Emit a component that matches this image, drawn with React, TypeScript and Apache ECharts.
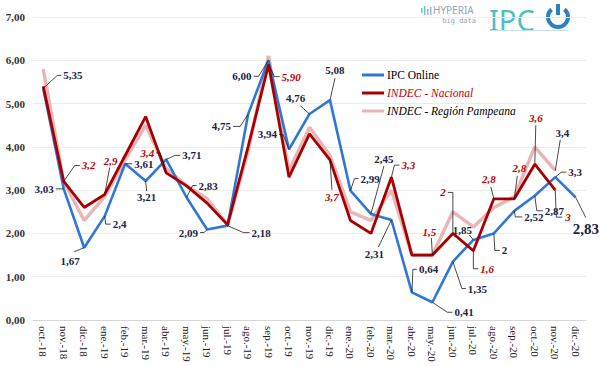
import React, { useEffect, useRef } from "react";
import * as echarts from "echarts";

const categories = ["oct.-18","nov.-18","dic.-18","ene.-19","feb.-19","mar.-19","abr.-19","may.-19","jun.-19","jul.-19","ago.-19","sep.-19","oct.-19","nov.-19","dic.-19","ene.-20","feb.-20","mar.-20","abr.-20","may.-20","jun.-20","jul.-20","ago.-20","sep.-20","oct.-20","nov.-20","dic.-20"];

const ipcOnline = [5.35,3.03,1.67,2.4,3.61,3.21,3.71,2.83,2.09,2.18,4.75,6.0,3.94,4.76,5.08,2.99,2.45,2.31,0.64,0.41,1.35,1.85,2,2.52,2.87,3.3,2.83];
const indecNacional = [5.4,3.2,2.6,2.9,3.8,4.7,3.4,3.1,2.7,2.2,4.0,5.9,3.3,4.3,3.7,2.3,2.0,3.3,1.5,1.5,2.0,1.6,2.8,2.8,3.6,3.0,null];
const indecPampeana = [5.8,3.2,2.3,2.85,3.7,4.5,3.5,3.1,2.8,2.2,3.9,6.1,3.45,4.45,3.8,2.5,2.3,3.0,1.5,1.5,2.5,2.15,2.6,2.85,4.0,3.45,null];

const ipcOnlineLabels = ["5,35","3,03","1,67","2,4","3,61","3,21","3,71","2,83","2,09","2,18","4,75","6,00","3,94","4,76","5,08","2,99","2,45","2,31","0,64","0,41","1,35","1,85","2","2,52","2,87","3,3","2,83"];
const nacionalLabels = [null,"3,2",null,"2,9",null,null,"3,4",null,null,null,null,"5,90",null,null,"3,7",null,null,"3,3",null,"1,5","2","1,6","2,8","2,8","3,6","3",null];
const pampeanaLabels = [null,null,null,null,null,null,null,null,null,null,null,null,null,null,null,null,null,null,null,null,null,null,null,null,null,"3,4",null];

const seriesNames = ["IPC Online", "INDEC - Nacional", "INDEC - Región Pampeana"];

// Callout layout (leader-line points and text anchor relative to the data point)
type Callout = { pts: number[][]; t: number[]; a: string; big?: boolean };
const calloutLayout: Record<string, Callout> = {
  b0: { pts: [[14, -13], [18, -13]], t: [20, -13], a: "left" },
  b1: { pts: [[-3, 0], [-8, 0]], t: [-10, 0], a: "right" },
  b2: { pts: [[-10, 4]], t: [-14, 13], a: "center" },
  b3: { pts: [[1, 8], [6, 8]], t: [8, 8], a: "left" },
  b4: { pts: [[7, 0]], t: [9, 0], a: "left" },
  b5: { pts: [[1, 10]], t: [1, 16], a: "center" },
  b6: { pts: [[9, -4], [14, -4]], t: [16, -4], a: "left" },
  b7: { pts: [[6, -12], [10, -12]], t: [12, -12], a: "left" },
  b8: { pts: [[-3, 3], [-7, 3]], t: [-9, 3], a: "right" },
  b9: { pts: [[16, 7], [22, 7]], t: [24, 7], a: "left" },
  b10: { pts: [[-8, 12], [-15, 12]], t: [-17, 12], a: "right" },
  b11: { pts: [[-10, 16], [-15, 16]], t: [-17, 16], a: "right" },
  b12: { pts: [[-6, -15], [-10, -15]], t: [-12, -15], a: "right" },
  b13: { pts: [[-9, -8]], t: [-14, -16], a: "center" },
  b14: { pts: [[5, -22]], t: [5, -30], a: "center" },
  b15: { pts: [[4, -12], [8, -12]], t: [10, -12], a: "left" },
  b16: { pts: [[13, -48]], t: [13, -55], a: "center" },
  b17: { pts: [[-13, 27]], t: [-17, 34], a: "center" },
  b18: { pts: [[1, -23], [5, -23]], t: [7, -23], a: "left" },
  b19: { pts: [[15, 10], [20, 10]], t: [22, 10], a: "left" },
  b20: { pts: [[9, 27], [13, 27]], t: [15, 27], a: "left" },
  b21: { pts: [[-4, -5]], t: [-11, -10], a: "center" },
  b22: { pts: [[1, 17], [6, 17]], t: [8, 17], a: "left" },
  b23: { pts: [[1, 6], [8, 6]], t: [10, 6], a: "left" },
  b24: { pts: [[2, 15], [8, 15]], t: [10, 15], a: "left" },
  b25: { pts: [[6, -5], [11, -5]], t: [13, -5], a: "left" },
  b26: { pts: [[10, 20]], t: [10, 31], a: "center", big: true },
  r1: { pts: [[11, -16], [16, -16]], t: [18, -16], a: "left" },
  r3: { pts: [[5, -27]], t: [6, -33], a: "center" },
  r6: { pts: [[-6, -20], [-10, -20]], t: [-12, -20], a: "right" },
  r11: { pts: [[6, 12], [11, 12]], t: [13, 12], a: "left" },
  r14: { pts: [[2, 30]], t: [2, 37], a: "center" },
  r17: { pts: [[3, -12], [8, -12]], t: [10, -12], a: "left" },
  r19: { pts: [[-1, -17]], t: [-3, -23], a: "center" },
  r20: { pts: [[0, -41], [-5, -41]], t: [-7, -41], a: "right" },
  r21: { pts: [[0, 18], [5, 18]], t: [7, 18], a: "left" },
  r22: { pts: [[-3, -12]], t: [-5, -20], a: "center" },
  r23: { pts: [[3, -23]], t: [5, -31], a: "center" },
  r24: { pts: [[1, -39]], t: [1, -46], a: "center" },
  r25: { pts: [[1, 27], [7, 27]], t: [10, 27], a: "left" },
  p25: { pts: [[5, -31]], t: [7, -38], a: "center" },
};

const SERIF = "Liberation Serif, Times New Roman, Tinos, DejaVu Serif, serif";
const SANS = "Noto Sans, sans-serif";
const COLORS = { blue: "#2f77d6", red: "#a80000", pink: "#e8b6b6" };

function buildCallouts(prefix: string, values: (number | null)[], labels: (string | null)[], red: boolean) {
  const entries: { i: number; v: number; text: string; key: string }[] = [];
  labels.forEach((txt, i) => {
    const v = values[i];
    if (txt != null && v != null) entries.push({ i, v, text: txt, key: prefix + i });
  });
  return {
    type: "custom",
    name: "_callouts_" + prefix,
    coordinateSystem: "cartesian2d",
    z: 10,
    silent: true,
    data: entries.map((e) => [e.i, e.v]),
    renderItem: (params: any, api: any) => {
      const e = entries[params.dataIndex];
      const lay = calloutLayout[e.key];
      const p = api.coord([api.value(0), api.value(1)]);
      const pts = [[p[0], p[1]], ...lay.pts.map((d) => [p[0] + d[0], p[1] + d[1]])];
      return {
        type: "group",
        children: [
          {
            type: "polyline",
            shape: { points: pts },
            style: { stroke: "#1a1a1a", lineWidth: 0.8, fill: null },
          },
          {
            type: "text",
            x: p[0] + lay.t[0],
            y: p[1] + lay.t[1],
            style: {
              text: e.text,
              align: lay.a,
              verticalAlign: "middle",
              textAlign: lay.a,
              textVerticalAlign: "middle",
              fontFamily: SERIF,
              fontSize: lay.big ? 15 : 11,
              fontWeight: "bold",
              fontStyle: red ? "italic" : "normal",
              fill: red ? "#c00000" : "#1b2444",
            },
          },
        ],
      };
    },
  };
}

export default function App() {
  const ref = useRef<HTMLDivElement>(null);
  useEffect(() => {
    if (!ref.current) return;
    const chart = echarts.init(ref.current, null, { renderer: "svg" });
    const fmt = (v: number) => v.toFixed(2).replace(".", ",");
    chart.setOption({
      animation: false,
      backgroundColor: "#ffffff",
      textStyle: { fontFamily: SERIF },
      grid: { left: 33, right: 14, top: 17, bottom: 46 },
      legend: {
        orient: "vertical",
        left: 357,
        top: 64,
        itemWidth: 22,
        itemHeight: 3,
        itemGap: 6,
        icon: "rect",
        data: [
          { name: seriesNames[0], textStyle: { color: "#000", fontStyle: "normal", fontFamily: SERIF } },
          { name: seriesNames[1], textStyle: { color: "#c00000", fontStyle: "italic", fontFamily: SERIF } },
          { name: seriesNames[2], textStyle: { color: "#000", fontStyle: "italic", fontFamily: SERIF } },
        ],
        textStyle: { fontFamily: SERIF, fontSize: 11.5, padding: [0, 0, 0, -2] },
      },
      xAxis: {
        type: "category",
        data: categories,
        boundaryGap: true,
        axisTick: { show: false },
        axisLine: { lineStyle: { color: "#d6d6d6" } },
        axisLabel: {
          rotate: -90,
          interval: 0,
          margin: 6,
          fontFamily: SERIF,
          fontSize: 11,
          color: "#222",
        },
      },
      yAxis: {
        type: "value",
        min: 0,
        max: 7,
        interval: 1,
        axisLine: { show: false },
        axisTick: { show: false },
        splitLine: { lineStyle: { color: "#ebebeb" } },
        axisLabel: {
          formatter: fmt,
          margin: 8,
          fontFamily: SERIF,
          fontSize: 11,
          fontWeight: "bold",
          color: "#333",
        },
      },
      series: [
        {
          name: seriesNames[0],
          type: "line",
          data: ipcOnline,
          symbol: "none",
          z: 3,
          color: COLORS.blue,
          lineStyle: { width: 2.6, color: COLORS.blue },
        },
        {
          name: seriesNames[1],
          type: "line",
          data: indecNacional,
          symbol: "none",
          z: 4,
          color: COLORS.red,
          lineStyle: { width: 2.8, color: COLORS.red },
        },
        {
          name: seriesNames[2],
          type: "line",
          data: indecPampeana,
          symbol: "none",
          z: 2,
          color: COLORS.pink,
          lineStyle: { width: 3.5, color: COLORS.pink },
        },
        buildCallouts("b", ipcOnline, ipcOnlineLabels, false),
        buildCallouts("r", indecNacional, nacionalLabels, true),
        buildCallouts("p", indecPampeana, pampeanaLabels, false),
      ],
      graphic: [
        { type: "rect", shape: { x: 421, y: 8, width: 1.5, height: 5 }, style: { fill: "#6cc5c2" } },
        { type: "rect", shape: { x: 424, y: 6, width: 1.5, height: 9 }, style: { fill: "#6cc5c2" } },
        { type: "rect", shape: { x: 427, y: 9, width: 1.5, height: 6 }, style: { fill: "#9ab8c8" } },
        { type: "rect", shape: { x: 430, y: 7, width: 1.5, height: 8 }, style: { fill: "#9ab8c8" } },
        {
          type: "text",
          x: 433,
          y: 5,
          style: {
            text: "HYPERIA",
            fontFamily: SANS,
            fontSize: 10,
            fill: "#8fa6b6",
          },
        },
        {
          type: "text",
          x: 476,
          y: 17,
          style: {
            text: "big data",
            align: "right",
            textAlign: "right",
            fontFamily: "DejaVu Sans Mono, monospace",
            fontSize: 7,
            fill: "#9aa3ad",
          },
        },
        {
          type: "text",
          x: 489,
          y: 5,
          style: {
            text: "IPC",
            fontFamily: SANS,
            fontSize: 29,
            fill: "#4fc0c2",
          },
        },
        {
          type: "arc",
          shape: {
            cx: 558,
            cy: 17,
            r: 10,
            startAngle: -Math.PI / 2 + 0.7,
            endAngle: (3 * Math.PI) / 2 - 0.7,
            clockwise: true,
          },
          style: { stroke: "#2b80c2", lineWidth: 4, fill: null },
        },
        {
          type: "line",
          shape: { x1: 558, y1: 4, x2: 558, y2: 15 },
          style: { stroke: "#2b80c2", lineWidth: 4 },
        },
        { type: "rect", shape: { x: 491, y: 30, width: 78, height: 1 }, style: { fill: "#bfe3e6" } },
      ],
    });
    return () => chart.dispose();
  }, []);
  return (
    <div
      ref={ref}
      style={{ position: "fixed", left: 0, top: 0, width: 600, height: 366, background: "#fff" }}
    />
  );
}
